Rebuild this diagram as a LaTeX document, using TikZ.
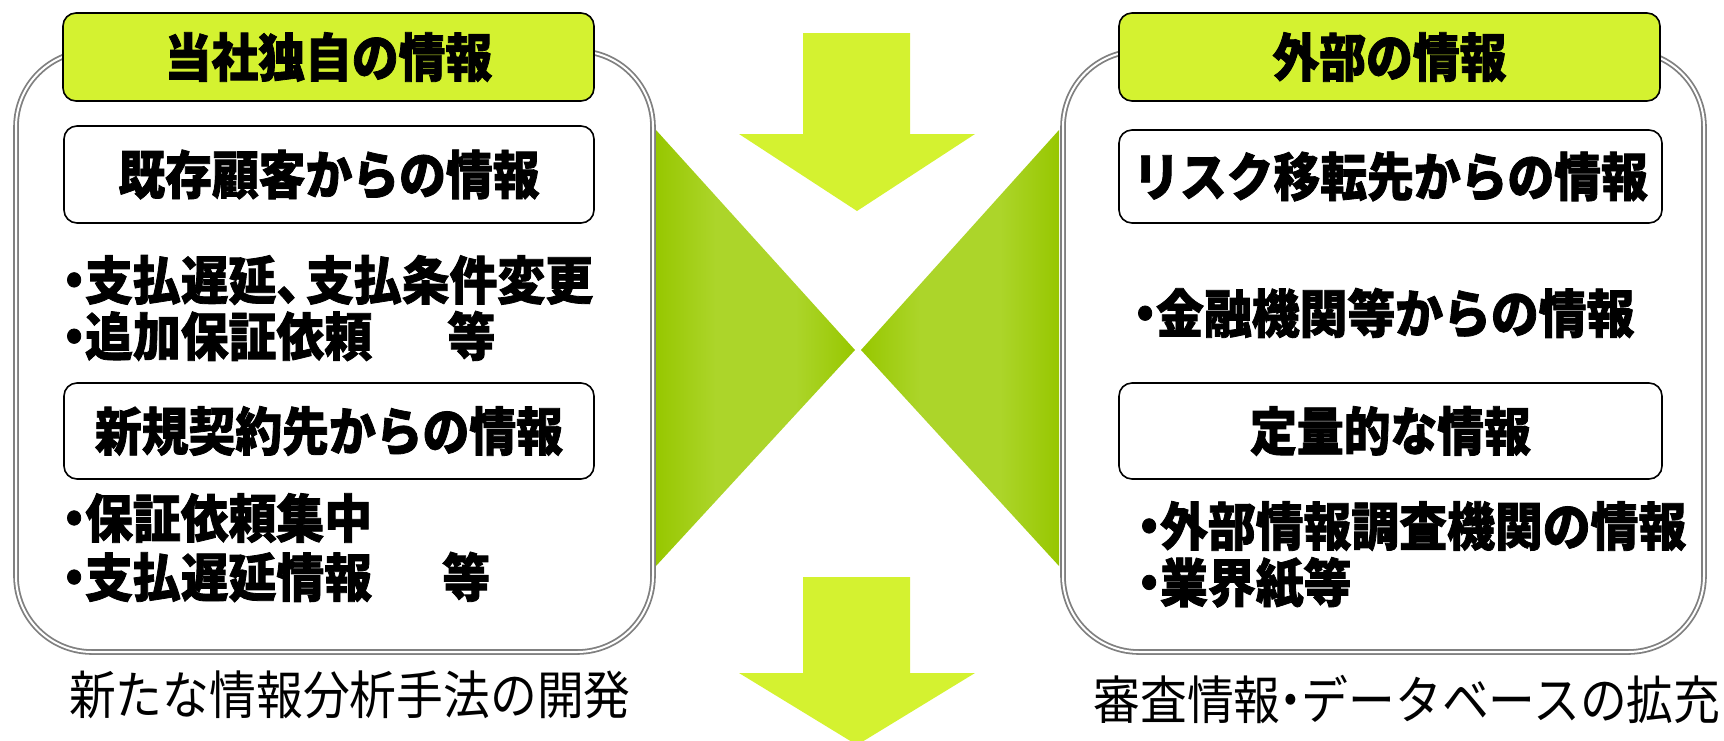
\documentclass[tikz,border=0pt]{standalone}
\usepackage{fontspec}
\newfontfamily\jp{Noto Sans CJK JP}[FakeStretch=0.9, BoldFeatures={FakeBold=1.5}]
\newfontfamily\jpbul{Noto Sans CJK JP}[FakeStretch=0.92, BoldFeatures={FakeBold=1.5}]
\definecolor{lime}{RGB}{212,242,48}
\definecolor{gdk}{RGB}{151,199,0}
\definecolor{glt}{RGB}{172,213,42}
\definecolor{framegray}{RGB}{128,128,128}
\pgfdeclarehorizontalshading{trishade}{100bp}{color(0bp)=(gdk); color(25bp)=(gdk); color(40bp)=(glt); color(60bp)=(glt); color(75bp)=(gdk); color(100bp)=(gdk)}
\newcommand\jdot{\kern-0.25em・\kern-0.25em}
\newcommand\jcomma{、\kern-0.35em}
\tikzset{
  outerbox/.style={draw=framegray, line width=1.8pt, double=white, double distance=2pt, rounded corners=76pt},
  headbox/.style={draw=black, line width=1.6pt, fill=lime, rounded corners=13pt, inner sep=0pt,
    font=\jp\bfseries\fontsize{52}{52}\selectfont},
  subbox/.style={draw=black, line width=1.6pt, fill=white, rounded corners=13pt, inner sep=0pt,
    font=\jp\bfseries\fontsize{52}{52}\selectfont},
  bullet/.style={anchor=west, inner sep=0pt, font=\jpbul\bfseries\fontsize{52}{52}\selectfont},
  caption/.style={inner sep=0pt, font=\jp\fontsize{52}{52}\selectfont},
  arrowshape/.style={fill=lime, draw=none},
  trishape/.style={shading=trishade, draw=none}
}
\begin{document}
\begin{tikzpicture}[x=1pt,y=-1pt]
\useasboundingbox (0,0) rectangle (1724,740);
\clip (0,0) rectangle (1724,740);
% outer frames
\draw[outerbox] (16,51) rectangle (653,652);
\draw[outerbox] (1063,51) rectangle (1704,652);
% triangles
\path[trishape] (656,130) -- (855,350) -- (656,566) -- cycle;
\path[trishape] (1059,130) -- (861,350) -- (1059,566) -- cycle;
% arrows
\fill[arrowshape] (803,33) -- (910,33) -- (910,134) -- (975,134) -- (857,211) -- (739,134) -- (803,134) -- cycle;
\fill[arrowshape] (803,577) -- (910,577) -- (910,673) -- (975,673) -- (857,745) -- (739,673) -- (803,673) -- cycle;
% left panel
\node[headbox, minimum width=531pt, minimum height=88pt] (lt) at (328.5,57) {当社独自の情報};
\node[subbox, minimum width=530pt, minimum height=97pt] (ls1) at (329,174.5) {既存顧客からの情報};
\node[bullet] (lb1) at (63,280) {\jdot 支払遅延\jcomma 支払条件変更};
\node[bullet] (lb2) at (63,336) {\jdot 追加保証依頼\hspace{1.45em}等};
\node[subbox, minimum width=530pt, minimum height=96pt] (ls2) at (329,431) {新規契約先からの情報};
\node[bullet] (lb3) at (63,518) {\jdot 保証依頼集中};
\node[bullet] (lb4) at (63,577) {\jdot 支払遅延情報\hspace{1.35em}等};
\node[caption] (lc) at (350,695) {新たな情報分析手法の開発};
% right panel
\node[headbox, minimum width=541pt, minimum height=88pt] (rt) at (1389.5,57) {外部の情報};
\node[subbox, minimum width=543pt, minimum height=93pt] (rs1) at (1390.5,176.5) {リスク移転先からの情報};
\node[bullet] (rb1) at (1134,313) {\jdot 金融機関等からの情報};
\node[subbox, minimum width=543pt, minimum height=96pt] (rs2) at (1390.5,431) {定量的な情報};
\node[bullet] (rb2) at (1138,526) {\jdot 外部情報調査機関の情報};
\node[bullet] (rb3) at (1138,583) {\jdot 業界紙等};
\node[caption] (rc) at (1407,699) {審査情報\jdot データベースの拡充};
\end{tikzpicture}
\end{document}
